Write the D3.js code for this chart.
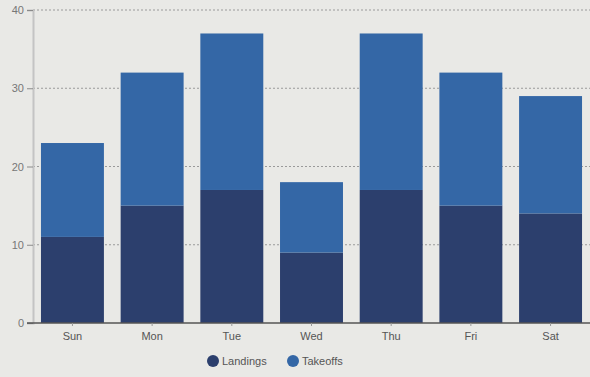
<!DOCTYPE html>
<html>
<head>
<meta charset="utf-8">
<script src="https://cdn.jsdelivr.net/npm/d3@7"></script>
<style>
  html, body { margin: 0; padding: 0; background: #e9e9e6; }
  svg { display: block; }
  text { font-family: "Liberation Sans", Arial, sans-serif; }
</style>
</head>
<body>
<svg id="chart" width="590" height="377"></svg>
<script>
// Weekly flight counts, stacked by movement type
const days = ["Sun", "Mon", "Tue", "Wed", "Thu", "Fri", "Sat"];
const landings = [11, 15, 17, 9, 17, 15, 14];
const takeoffs = [12, 17, 20, 9, 20, 17, 15];
const seriesNames = ["Landings", "Takeoffs"];
const seriesColors = ["#2c3f6d", "#3467a6"];
const yTicks = [0, 10, 20, 30, 40];

const svg = d3.select("#chart");
const margin = { top: 10, right: 0, bottom: 54, left: 33 };
const width = 590, height = 377;
const plotW = width - margin.left - margin.right;
const plotH = height - margin.top - margin.bottom;

const g = svg.append("g").attr("transform", `translate(${margin.left},${margin.top})`);

const x = d3.scaleBand().domain(days).range([0, plotW]).paddingInner(0.21).paddingOuter(0.1);
const y = d3.scaleLinear().domain([0, 40]).range([plotH, 0]);

const rows = days.map((d, i) => ({ day: d, Landings: landings[i], Takeoffs: takeoffs[i] }));
const stacked = d3.stack().keys(seriesNames)(rows);

// dotted horizontal gridlines
g.append("g")
  .selectAll("line")
  .data(yTicks.filter(t => t > 0))
  .join("line")
  .attr("x1", 0).attr("x2", plotW)
  .attr("y1", d => y(d)).attr("y2", d => y(d))
  .attr("stroke", "#9a9a9a")
  .attr("stroke-width", 1)
  .attr("stroke-dasharray", "2,2");

// stacked bars
g.append("g")
  .selectAll("g")
  .data(stacked)
  .join("g")
  .attr("fill", (d, i) => seriesColors[i])
  .selectAll("rect")
  .data(d => d)
  .join("rect")
  .attr("x", d => x(d.data.day))
  .attr("width", x.bandwidth())
  .attr("y", d => y(d[1]))
  .attr("height", d => y(d[0]) - y(d[1]));

// y axis
const yAxis = g.append("g")
  .call(d3.axisLeft(y).tickValues(yTicks).tickSize(6).tickPadding(3));
yAxis.select(".domain").attr("stroke", "#c4c4c4").attr("stroke-width", 2);
yAxis.selectAll(".tick line").attr("stroke", "#8a8a8a");
yAxis.selectAll(".tick text").attr("fill", "#777").attr("font-size", 11);

// x axis
const xAxis = g.append("g")
  .attr("transform", `translate(0,${plotH})`)
  .call(d3.axisBottom(x).tickSize(3).tickPadding(6));
xAxis.select(".domain").attr("stroke", "#555").attr("stroke-width", 1.5)
  .attr("d", `M-6,0H${plotW}`);
xAxis.selectAll(".tick line").attr("stroke", "#999");
xAxis.selectAll(".tick text").attr("fill", "#555").attr("font-size", 11);

// legend
const legend = svg.append("g").attr("transform", "translate(213,361)");
const items = legend.selectAll("g")
  .data(seriesNames)
  .join("g")
  .attr("transform", (d, i) => `translate(${i * 80},0)`);
items.append("circle")
  .attr("r", 6)
  .attr("fill", (d, i) => seriesColors[i]);
items.append("text")
  .attr("x", 9)
  .attr("dy", "0.35em")
  .attr("font-size", 11)
  .attr("fill", "#555")
  .text(d => d);
</script>
</body>
</html>
